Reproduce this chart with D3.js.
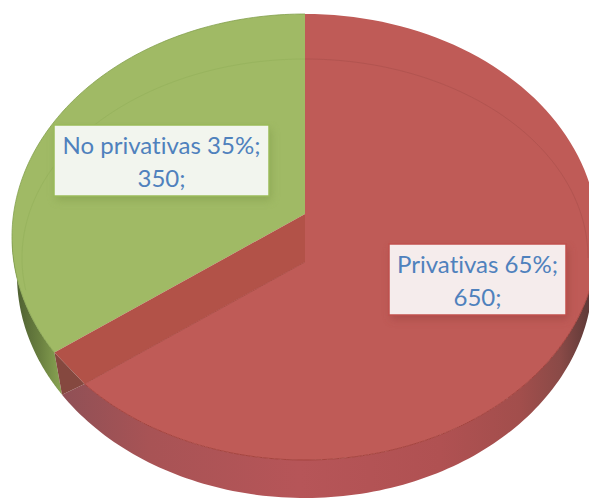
<!DOCTYPE html>
<html><head><meta charset="utf-8">
<script src="https://cdn.jsdelivr.net/npm/d3@7"></script>
<style>html,body{margin:0;padding:0;background:#fff;overflow:hidden}svg{display:block}</style>
</head><body><div id="chart"></div>
<script>
const categories = ["Privativas", "No privativas"];
const values = [650, 350];
const percents = [65, 35];

const W = 589, H = 498;
const topE = {cx:305, cy:237, rx:293, ry:223};
const lowE = {cx:305, cy:275, rx:288, ry:223};
const innerE = {cx:305, cy:258, rx:283, ry:199};
const apexTop = {x:305, y:214}, apexLow = {x:305, y:262};
const squash = topE.ry / topE.rx;
const TAU = 2*Math.PI;

const svg = d3.select("#chart").append("svg").attr("width", W).attr("height", H);
const defs = svg.append("defs");
const grad = (id, stops) => {
  const g = defs.append("linearGradient").attr("id", id).attr("gradientUnits","userSpaceOnUse")
    .attr("x1",12).attr("x2",589).attr("y1",0).attr("y2",0);
  stops.forEach(([x,c]) => g.append("stop").attr("offset",(x-12)/577).attr("stop-color",c));
};
grad("wallRed", [[60,"#8f5056"],[150,"#a85355"],[300,"#b65558"],[440,"#b05152"],[520,"#a24e4c"],[560,"#8a4a47"],[589,"#5f3a38"]]);
grad("wallGreen", [[12,"#4a5a30"],[40,"#6a8040"],[62,"#8aa553"]]);
const shadow = defs.append("filter").attr("id","sh").attr("x","-10%").attr("y","-10%").attr("width","125%").attr("height","135%");
shadow.append("feGaussianBlur").attr("stdDeviation",4);

const pie = d3.pie().sort(null).value(d => d).startAngle(0).endAngle(TAU);
const arcs = pie(values);
const green = arcs[1];

function rayHit(ap, a, e) {
  const dx = Math.sin(a), dy = -Math.cos(a) * squash;
  const px = (ap.x - e.cx)/e.rx, py = (ap.y - e.cy)/e.ry;
  const qx = dx/e.rx, qy = dy/e.ry;
  const A = qx*qx+qy*qy, B = 2*(px*qx+py*qy), C = px*px+py*py-1;
  const t = (-B + Math.sqrt(B*B-4*A*C))/(2*A);
  return {x: ap.x+dx*t, y: ap.y+dy*t};
}
const ang = (p, e) => { const a = Math.atan2((p.x-e.cx)/e.rx, -(p.y-e.cy)/e.ry); return a < 0 ? a + TAU : a; };
const onE = (e, a) => [e.cx+e.rx*Math.sin(a), e.cy-e.ry*Math.cos(a)];
const curve = (e, a0, a1) => d3.range(0,121).map(i => onE(e, a0+(a1-a0)*i/120));
const line = d3.line();

const boundary = green.startAngle;
const greenEnd = rayHit(apexTop, boundary, topE);
const redEnd = rayHit(apexLow, boundary, topE);
const splitA = ang({x:redEnd.x-25, y:redEnd.y+12}, lowE);
const lowSplit = onE(lowE, splitA);
const gA = ang(greenEnd, topE), rA = ang(redEnd, topE);

// side walls
svg.append("path").attr("d", line(curve(lowE, 1.5*Math.PI, splitA).concat(curve(topE, gA, 1.5*Math.PI)))+"Z").attr("fill","url(#wallGreen)");
svg.append("path").attr("d", line(curve(lowE, splitA, Math.PI/2).concat(curve(topE, Math.PI/2, rA)))+"Z").attr("fill","url(#wallRed)");

// red top surface
svg.append("path").attr("d", line([[apexTop.x,apexTop.y], ...curve(topE, 0, rA), [apexLow.x,apexLow.y]])+"Z").attr("fill","#bf5b57");
// green wedge
svg.append("path")
  .attr("d", line([[apexTop.x,apexTop.y], ...curve(topE, gA, TAU)])+"Z")
  .attr("fill","#a0ba65");
svg.append("path").attr("d", line(curve(topE, gA, TAU))).attr("stroke","#83a04c").attr("stroke-width",0.8).attr("fill","none");
// inner cut wall
svg.append("path")
  .attr("d", line([[apexTop.x,apexTop.y],[greenEnd.x,greenEnd.y],[redEnd.x,redEnd.y],[apexLow.x,apexLow.y]])+"Z")
  .attr("fill","#b25248");
svg.append("path")
  .attr("d", line([[greenEnd.x,greenEnd.y],lowSplit,[redEnd.x,redEnd.y]])+"Z")
  .attr("fill","#85483f");
// seams
svg.append("path").attr("d", line([[apexLow.x,apexLow.y],[redEnd.x,redEnd.y]])).attr("stroke","#ad4f48").attr("stroke-width",1).attr("fill","none");
svg.append("path").attr("d", line(curve(topE, rA, Math.PI/2))).attr("stroke","#a5443f").attr("stroke-width",1).attr("fill","none");
// faint rim of the far half
svg.append("path").attr("d", line(curve(innerE, 4.55, TAU))).attr("stroke","#98b45e").attr("stroke-width",1).attr("fill","none");
svg.append("path").attr("d", line(curve(innerE, 0, Math.PI/2))).attr("stroke","#b25450").attr("stroke-width",1).attr("fill","none");

// labels
const boxes = [
  {i:1, x:54, y:125, w:215, h:71, fill:"#f2f5ee", stroke:"#9bbb59", shadow:"#7f9a48"},
  {i:0, x:389, y:244, w:177, h:71, fill:"#f5ecec", stroke:"#c0504d", shadow:"#9a3f3c"}
];
boxes.forEach(b => {
  svg.append("rect").attr("x",b.x+2).attr("y",b.y+4).attr("width",b.w).attr("height",b.h)
    .attr("fill",b.shadow).attr("opacity",0.55).attr("filter","url(#sh)");
  svg.append("rect").attr("x",b.x).attr("y",b.y).attr("width",b.w).attr("height",b.h)
    .attr("fill",b.fill).attr("stroke",b.stroke).attr("stroke-width",1.5);
  const t = svg.append("text").attr("text-anchor","middle").attr("fill","#4f81bd")
    .attr("font-family","Lato, 'Open Sans', sans-serif").attr("font-size",24)
    .style("font-variant-ligatures","none");
  t.append("tspan").attr("x",b.x+b.w/2).attr("y",b.y+29).text(`${categories[b.i]} ${percents[b.i]}%;`);
  t.append("tspan").attr("x",b.x+b.w/2).attr("y",b.y+62).text(`${values[b.i]};`);
});
</script></body></html>
